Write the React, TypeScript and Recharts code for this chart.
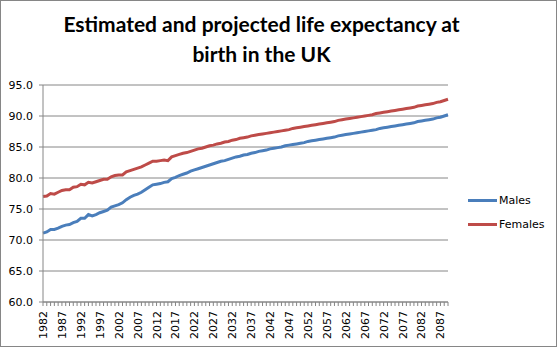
import { LineChart, Line, XAxis, YAxis, CartesianGrid } from "recharts";

const years = [
  1982, 1983, 1984, 1985, 1986, 1987, 1988, 1989, 1990, 1991,
  1992, 1993, 1994, 1995, 1996, 1997, 1998, 1999, 2000, 2001,
  2002, 2003, 2004, 2005, 2006, 2007, 2008, 2009, 2010, 2011,
  2012, 2013, 2014, 2015, 2016, 2017, 2018, 2019, 2020, 2021,
  2022, 2023, 2024, 2025, 2026, 2027, 2028, 2029, 2030, 2031,
  2032, 2033, 2034, 2035, 2036, 2037, 2038, 2039, 2040, 2041,
  2042, 2043, 2044, 2045, 2046, 2047, 2048, 2049, 2050, 2051,
  2052, 2053, 2054, 2055, 2056, 2057, 2058, 2059, 2060, 2061,
  2062, 2063, 2064, 2065, 2066, 2067, 2068, 2069, 2070, 2071,
  2072, 2073, 2074, 2075, 2076, 2077, 2078, 2079, 2080, 2081,
  2082, 2083, 2084, 2085, 2086, 2087, 2088, 2089,
];

const males = [
  71.1, 71.3, 71.7, 71.7, 71.9, 72.2, 72.4, 72.5, 72.8, 73.0,
  73.5, 73.5, 74.1, 73.9, 74.1, 74.4, 74.6, 74.8, 75.3, 75.5,
  75.7, 76.0, 76.5, 76.9, 77.2, 77.4, 77.7, 78.1, 78.5, 78.9,
  79.0, 79.1, 79.3, 79.4, 79.9, 80.1, 80.4, 80.6, 80.8, 81.1,
  81.3, 81.5, 81.7, 81.9, 82.1, 82.3, 82.5, 82.7, 82.8, 83.0,
  83.2, 83.4, 83.5, 83.7, 83.8, 84.0, 84.1, 84.3, 84.4, 84.5,
  84.7, 84.8, 84.9, 85.0, 85.2, 85.3, 85.4, 85.5, 85.6, 85.7,
  85.9, 86.0, 86.1, 86.2, 86.3, 86.4, 86.5, 86.6, 86.8, 86.9,
  87.0, 87.1, 87.2, 87.3, 87.4, 87.5, 87.6, 87.7, 87.8, 88.0,
  88.1, 88.2, 88.3, 88.4, 88.5, 88.6, 88.7, 88.8, 88.9, 89.1,
  89.2, 89.3, 89.4, 89.5, 89.7, 89.8, 90.0, 90.2,
];

const females = [
  77.0, 77.1, 77.5, 77.4, 77.7, 78.0, 78.1, 78.1, 78.5, 78.6,
  79.0, 78.9, 79.3, 79.2, 79.4, 79.6, 79.8, 79.8, 80.2, 80.4,
  80.5, 80.5, 81.0, 81.2, 81.4, 81.6, 81.8, 82.1, 82.4, 82.7,
  82.7, 82.8, 82.9, 82.8, 83.4, 83.6, 83.8, 84.0, 84.1, 84.3,
  84.5, 84.7, 84.8, 85.0, 85.2, 85.3, 85.5, 85.6, 85.8, 85.9,
  86.1, 86.2, 86.4, 86.5, 86.6, 86.8, 86.9, 87.0, 87.1, 87.2,
  87.3, 87.4, 87.5, 87.6, 87.7, 87.8, 88.0, 88.1, 88.2, 88.3,
  88.4, 88.5, 88.6, 88.7, 88.8, 88.9, 89.0, 89.1, 89.3, 89.4,
  89.5, 89.6, 89.7, 89.8, 89.9, 90.0, 90.1, 90.2, 90.4, 90.5,
  90.6, 90.7, 90.8, 90.9, 91.0, 91.1, 91.2, 91.3, 91.4, 91.6,
  91.7, 91.8, 91.9, 92.0, 92.2, 92.3, 92.5, 92.7,
];

const yTicks = [60, 65, 70, 75, 80, 85, 90, 95];

const seriesInfo = [
  { key: "males", name: "Males", color: "#4A7EBB" },
  { key: "females", name: "Females", color: "#BE4B48" },
];

const AXIS_FONT = "'DejaVu Sans', Verdana, sans-serif";
const GRID = "#868686";

// one row per year for recharts
const chartData = years.map((year, i) => ({
  year,
  males: males[i],
  females: females[i],
}));

// label only every 5th year, rotated like excel
const YearTick = (props: any) => {
  const { x, y, payload, index } = props;
  if (index % 5 !== 0) return null;
  return (
    <text
      x={x}
      y={y}
      dy="0.36em"
      transform={`rotate(-90, ${x}, ${y})`}
      textAnchor="end"
      fontSize={11}
      fontFamily={AXIS_FONT}
      fill="#000"
    >
      {payload.value}
    </text>
  );
};

const App = () => {
  return (
    <div
      style={{
        position: "absolute",
        left: 0,
        top: 0,
        width: 557,
        height: 347,
        boxSizing: "border-box",
        border: `1px solid ${GRID}`,
        background: "#fff",
      }}
    >
      <div
        style={{
          position: "absolute",
          left: 0,
          width: 521,
          top: 8,
          textAlign: "center",
          fontFamily: "Lato, 'Open Sans', sans-serif",
          fontWeight: 700,
          fontSize: 21,
          lineHeight: "30px",
          color: "#000",
        }}
      >
        Estimated and projected life expectancy at
        <br />
        birth in the UK
      </div>

      <div style={{ position: "absolute", left: -1, top: -1 }}>
        <LineChart
          width={557}
          height={347}
          data={chartData}
          margin={{ top: 85, right: 109, bottom: 0, left: 0 }}
        >
          <CartesianGrid horizontal vertical={false} stroke={GRID} />
          <XAxis
            dataKey="year"
            interval={0}
            height={45}
            tick={<YearTick />}
            tickSize={4}
            tickMargin={5}
            stroke={GRID}
            tickLine={{ stroke: GRID }}
          />
          <YAxis
            domain={[60, 95]}
            ticks={yTicks}
            width={43}
            tickSize={4}
            tickMargin={6}
            tickFormatter={(v: number) => v.toFixed(1)}
            tick={{ fontSize: 11, fill: "#000", fontFamily: AXIS_FONT }}
            stroke={GRID}
            tickLine={{ stroke: GRID }}
          />
          {seriesInfo.map((s) => (
            <Line
              key={s.key}
              type="linear"
              dataKey={s.key}
              name={s.name}
              stroke={s.color}
              strokeWidth={3}
              dot={false}
              isAnimationActive={false}
            />
          ))}
        </LineChart>
      </div>

      <div style={{ position: "absolute", left: 467, top: 187 }}>
        {seriesInfo.map((s) => (
          <div
            key={s.key}
            style={{
              display: "flex",
              alignItems: "center",
              height: 24,
              fontFamily: AXIS_FONT,
              fontSize: 11,
              color: "#000",
            }}
          >
            <span
              style={{
                display: "inline-block",
                width: 29,
                height: 3,
                background: s.color,
                marginRight: 2,
              }}
            />
            {s.name}
          </div>
        ))}
      </div>
    </div>
  );
};

export default App;
